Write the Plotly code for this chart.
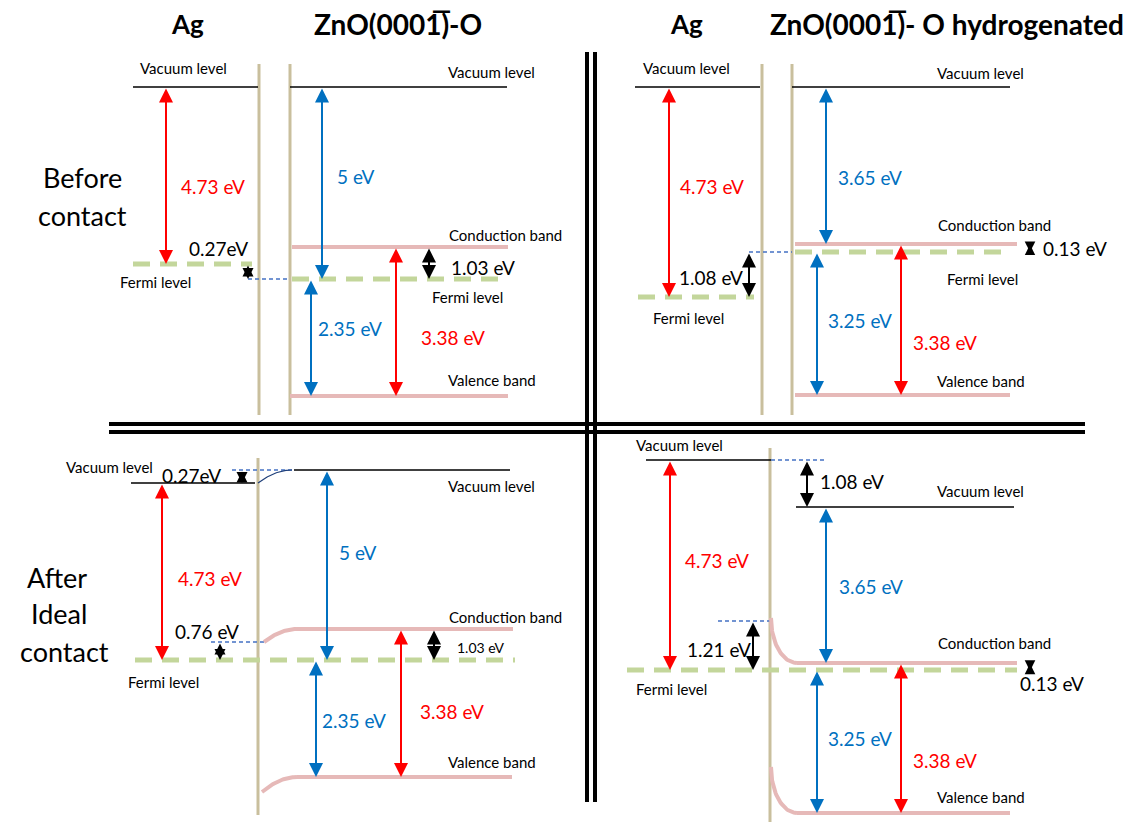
import numpy as np
import plotly.graph_objects as go

# ---------------- data (energies in eV) ----------------
metal = "Ag"
surfaces = ["ZnO(0001\u0305)-O", "ZnO(0001\u0305)- O hydrogenated"]
stage_before = ["Before", "contact"]
stage_after = ["After", "Ideal", "contact"]
level_names = ["Vacuum level", "Fermi level", "Conduction band", "Valence band"]

ag_work_function = 4.73            # Ag: vacuum -> Fermi
zno_vac_arrow = [5, 3.65]          # ZnO-O: vacuum -> E_F ; hydrogenated: vacuum -> CB
zno_fermi_to_vb = [2.35, 3.25]     # E_F -> valence band
zno_gap = 3.38                     # conduction band -> valence band
zno_cb_to_fermi = [1.03, 0.13]     # CB -> E_F
fermi_offset = [0.27, 1.08]        # before contact: Ag vs ZnO Fermi level
vacuum_step = [0.27, 1.08]         # after contact: vacuum level step
band_bending = [0.76, 1.21]        # after contact: band bending at interface


def ev(v, space=True):
    return f"{v:g} eV" if space else f"{v:g}eV"


# ---------------- styles ----------------
RED = "#FF0000"
BLUE = "#0070C0"
DASHBLUE = "#4472C4"
GREEN = "#C3D69B"
PINK = "#E6B9B8"
BEIGE = "#C9BF9D"
FONT = "Lato"

fig = go.Figure()


def line(xs, ys, color, width, dash=None):
    fig.add_trace(go.Scatter(x=list(xs), y=list(ys), mode="lines",
                             line=dict(color=color, width=width, dash=dash),
                             hoverinfo="skip", showlegend=False))


def hline(x0, x1, y, color="black", width=1.3, dash=None):
    line([x0, x1], [y, y], color, width, dash)


def vline(x, y0, y1, color=BEIGE, width=3):
    line([x, x], [y0, y1], color, width)


def fermi(x0, x1, y):
    hline(x0, x1, y, GREEN, 5, "17px,10px")


def dashed(x0, x1, y):
    hline(x0, x1, y, DASHBLUE, 1.6, "4px,3px")


def band(x0, x1, y):
    hline(x0, x1, y, PINK, 4)


def arrow(x, y0, y1, color, size=1.4, width=2):
    fig.add_annotation(x=x, y=y1, ax=x, ay=y0, xref="x", yref="y",
                       axref="x", ayref="y", text="", showarrow=True,
                       arrowhead=2, arrowsize=size, arrowwidth=width,
                       startarrowhead=2, startarrowsize=size,
                       arrowcolor=color, arrowside="end+start",
                       standoff=0, startstandoff=0)


def label(x, y, s, size=19, color="black", bold=False):
    fig.add_annotation(x=x, y=y, text=f"<b>{s}</b>" if bold else s,
                       showarrow=False, xanchor="center", yanchor="middle",
                       font=dict(family=FONT, size=size, color=color))


def bend(x0, y0, x1, y1, kind, color, width):
    t = np.linspace(0, 1, 40)
    if kind == "soft":
        xs = x0 + (x1 - x0) * t
        ys = y1 + (y0 - y1) * (1 - t) ** 2
    else:
        th = t * np.pi / 2
        xs = x0 + (x1 - x0) * (1 - np.cos(th))
        ys = y0 + (y1 - y0) * np.sin(th)
    line(xs, ys, color, width)


SMALL = 15

# ---------------- separators ----------------
hline(109, 1085, 424, "black", 4)
hline(109, 1085, 432, "black", 4)
line([587, 587], [52, 802], "black", 4)
line([595, 595], [52, 802], "black", 4)

# ---------------- titles ----------------
label(187, 24, metal, 26, bold=True)
label(398, 24, surfaces[0], 28, bold=True)
label(686, 24, metal, 26, bold=True)
label(947, 24, surfaces[1], 28, bold=True)

label(82, 177, stage_before[0], 27)
label(82, 215, stage_before[1], 27)
label(57, 577, stage_after[0], 27)
label(59, 613, stage_after[1], 27)
label(64, 651, stage_after[2], 27)

# ---------------- panel 1: before contact, ZnO-O ----------------
vline(259, 64, 415)
vline(290, 64, 415)
hline(133, 258, 87)
hline(290, 507, 87)
fermi(133, 252, 264)
dashed(248, 290, 279)
band(292, 508, 247)
fermi(292, 507, 279)
band(290, 508, 396)
arrow(166, 87, 264, RED)
arrow(322, 87, 279, BLUE)
arrow(248, 264, 279, "black", 1.1)
arrow(429, 247, 279, "black")
arrow(311, 279, 396, BLUE)
arrow(396, 247, 396, RED)
label(183, 68, level_names[0], SMALL)
label(491, 72, level_names[0], SMALL)
label(213, 186, ev(ag_work_function), color=RED)
label(355, 176, ev(zno_vac_arrow[0]), color=BLUE)
label(218, 248, ev(fermi_offset[0], False))
label(155, 282, level_names[1], SMALL)
label(505, 235, level_names[2], SMALL)
label(483, 267, ev(zno_cb_to_fermi[0]))
label(467, 297, level_names[1], SMALL)
label(350, 328, ev(zno_fermi_to_vb[0]), color=BLUE)
label(453, 337, ev(zno_gap), color=RED)
label(492, 380, level_names[3], SMALL)

# ---------------- panel 2: before contact, hydrogenated ----------------
vline(762, 64, 415)
vline(792, 64, 415)
hline(635, 760, 87)
hline(792, 1010, 87)
fermi(638, 754, 297)
dashed(749, 792, 252)
band(795, 1017, 244)
fermi(795, 1010, 252)
band(795, 1010, 395)
arrow(669, 87, 297, RED)
arrow(826, 87, 244, BLUE)
arrow(749, 252, 297, "black")
arrow(1030, 243, 252, "black", 0.85, 2.5)
arrow(817, 252, 395, BLUE)
arrow(901, 244, 395, RED)
label(686, 68, level_names[0], SMALL)
label(980, 73, level_names[0], SMALL)
label(712, 186, ev(ag_work_function), color=RED)
label(870, 177, ev(zno_vac_arrow[1]), color=BLUE)
label(994, 225, level_names[2], SMALL)
label(1075, 248, ev(zno_cb_to_fermi[1]))
label(711, 277, ev(fermi_offset[1]))
label(982, 279, level_names[1], SMALL)
label(688, 318, level_names[1], SMALL)
label(860, 320, ev(zno_fermi_to_vb[1]), color=BLUE)
label(945, 342, ev(zno_gap), color=RED)
label(981, 381, level_names[3], SMALL)

# ---------------- panel 3: after contact, ZnO-O ----------------
vline(258, 458, 815)
hline(131, 255, 483)
dashed(232, 293, 470)
bend(258, 483, 292, 470, "soft", "#1F3F7A", 1.2)
hline(294, 510, 470)
dashed(211, 264, 642)
bend(264, 642, 297, 629, "soft", PINK, 4)
band(297, 513, 629)
fermi(135, 515, 660)
bend(262, 792, 297, 777, "soft", PINK, 4)
band(297, 512, 777)
arrow(162, 483, 660, RED)
arrow(242, 470, 483, "black", 1.1)
arrow(327, 470, 660, BLUE)
arrow(220, 642, 660, "black", 1.1)
arrow(434, 629, 660, "black")
arrow(316, 660, 777, BLUE)
arrow(401, 629, 777, RED)
label(109, 467, level_names[0], SMALL)
label(191, 475, ev(vacuum_step[0], False))
label(491, 486, level_names[0], SMALL)
label(357, 552, ev(zno_vac_arrow[0]), color=BLUE)
label(210, 578, ev(ag_work_function), color=RED)
label(505, 617, level_names[2], SMALL)
label(207, 631, ev(band_bending[0]))
label(481, 647, ev(zno_cb_to_fermi[0]), 14)
label(163, 682, level_names[1], SMALL)
label(452, 711, ev(zno_gap), color=RED)
label(354, 720, ev(zno_fermi_to_vb[0]), color=BLUE)
label(492, 762, level_names[3], SMALL)

# ---------------- panel 4: after contact, hydrogenated ----------------
vline(770, 448, 822)
hline(646, 771, 460)
dashed(771, 824, 460)
hline(796, 1014, 507)
dashed(718, 771, 621)
bend(771, 618, 797, 663, "quarter", PINK, 4)
band(797, 1017, 663)
fermi(627, 1017, 670)
bend(771, 767, 797, 813, "quarter", PINK, 4)
band(797, 1010, 813)
arrow(670, 460, 670, RED)
arrow(807, 460, 507, "black")
arrow(826, 507, 663, BLUE)
arrow(753, 621, 670, "black")
arrow(1030, 662, 671, "black", 0.85, 2.5)
arrow(817, 670, 813, BLUE)
arrow(901, 663, 813, RED)
label(679, 445, level_names[0], SMALL)
label(852, 481, ev(vacuum_step[1]))
label(980, 491, level_names[0], SMALL)
label(717, 560, ev(ag_work_function), color=RED)
label(871, 586, ev(zno_vac_arrow[1]), color=BLUE)
label(994, 643, level_names[2], SMALL)
label(719, 649, ev(band_bending[1]))
label(1052, 683, ev(zno_cb_to_fermi[1]))
label(671, 689, level_names[1], SMALL)
label(860, 738, ev(zno_fermi_to_vb[1]), color=BLUE)
label(945, 760, ev(zno_gap), color=RED)
label(981, 797, level_names[3], SMALL)

fig.update_layout(
    width=1136, height=825,
    margin=dict(l=0, r=0, t=0, b=0),
    paper_bgcolor="white", plot_bgcolor="white",
    xaxis=dict(range=[0, 1136], visible=False, fixedrange=True),
    yaxis=dict(range=[825, 0], visible=False, fixedrange=True),
)

fig.write_html("out.html", config={"displayModeBar": False},
               post_script="document.body.style.margin='0';")
